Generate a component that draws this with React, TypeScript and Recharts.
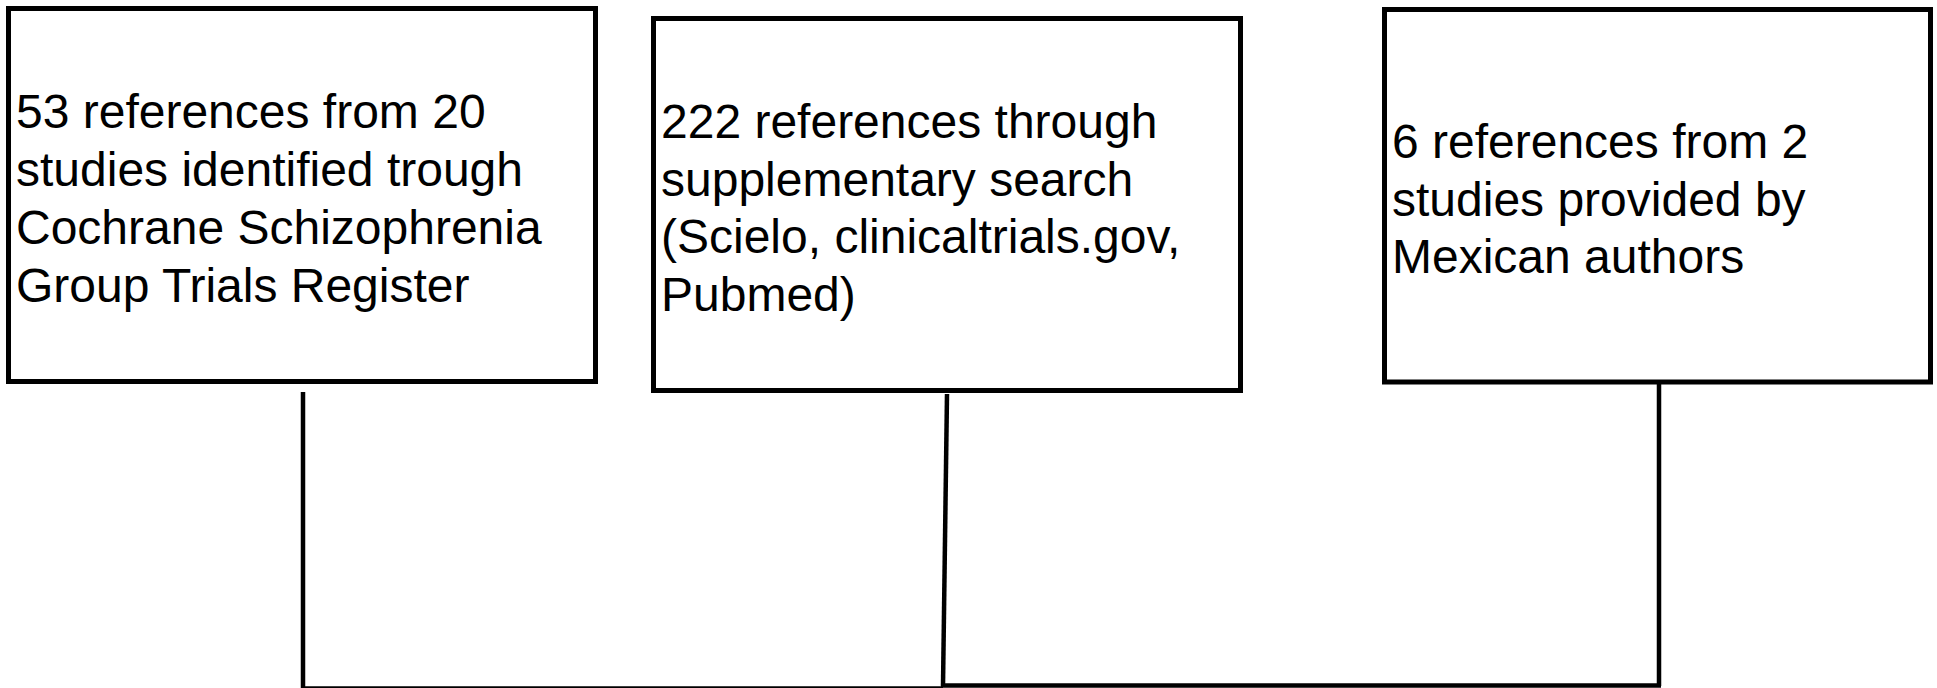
import { ComposedChart, XAxis, YAxis, ReferenceArea, ReferenceLine } from "recharts";

const W = 1937;
const H = 688;

// box texts, one entry per line
const leftLines = [
  "53 references from 20",
  "studies identified trough",
  "Cochrane Schizophrenia",
  "Group Trials Register",
];
const middleLines = [
  "222 references through",
  "supplementary search",
  "(Scielo, clinicaltrials.gov,",
  "Pubmed)",
];
const rightLines = [
  "6 references from 2",
  "studies provided by",
  "Mexican authors",
];

// layout (pixel units on the chart's own axes)
const boxes = [
  { lines: leftLines, x1: 8.5, x2: 595.5, y1: 8.5, y2: 381.5 },
  { lines: middleLines, x1: 653.5, x2: 1240.5, y1: 18.5, y2: 390.5 },
  { lines: rightLines, x1: 1384.5, x2: 1930.5, y1: 9.5, y2: 382 },
];

const connectors = [
  [{ x: 303, y: 392 }, { x: 303, y: 690 }],
  [{ x: 947, y: 394 }, { x: 943, y: 686 }],
  [{ x: 1659, y: 383 }, { x: 1659, y: 686 }],
  [{ x: 303, y: 688.5 }, { x: 943, y: 688.5 }],
  [{ x: 941, y: 685.5 }, { x: 1661, y: 685.5 }],
];

const FONT = 48;
const LINE_H = 57.7;

function BoxText(props: any) {
  const { viewBox, lines } = props;
  if (!viewBox) return null;
  const { x, y, height } = viewBox;
  const cy = y + height / 2 + 3;
  const n = lines.length;
  return (
    <text
      fontFamily="'Liberation Sans', Arial, sans-serif"
      fontSize={FONT}
      fill="#000"
    >
      {lines.map((l: string, i: number) => (
        <tspan key={i} x={x + 7.5} y={cy + (i - (n - 1) / 2) * LINE_H + 17}>
          {l}
        </tspan>
      ))}
    </text>
  );
}

export default function App() {
  return (
    <div style={{ position: "absolute", left: 0, top: 0, width: W, height: H, background: "#fff" }}>
      <ComposedChart width={W} height={H} margin={{ top: 0, right: 0, bottom: 0, left: 0 }}>
        <XAxis type="number" dataKey="x" domain={[0, W]} hide allowDataOverflow />
        <YAxis type="number" dataKey="y" domain={[0, H]} hide reversed allowDataOverflow />
        {boxes.map((b, i) => (
          <ReferenceArea
            key={i}
            x1={b.x1}
            x2={b.x2}
            y1={b.y1}
            y2={b.y2}
            fill="#fff"
            fillOpacity={1}
            stroke="#000"
            strokeWidth={5}
            ifOverflow="visible"
            label={(p: any) => <BoxText viewBox={p.viewBox} lines={b.lines} />}
          />
        ))}
        {connectors.map((c, i) => (
          <ReferenceLine
            key={i}
            segment={c}
            stroke="#000"
            strokeWidth={4.5}
            ifOverflow="visible"
          />
        ))}
      </ComposedChart>
    </div>
  );
}
